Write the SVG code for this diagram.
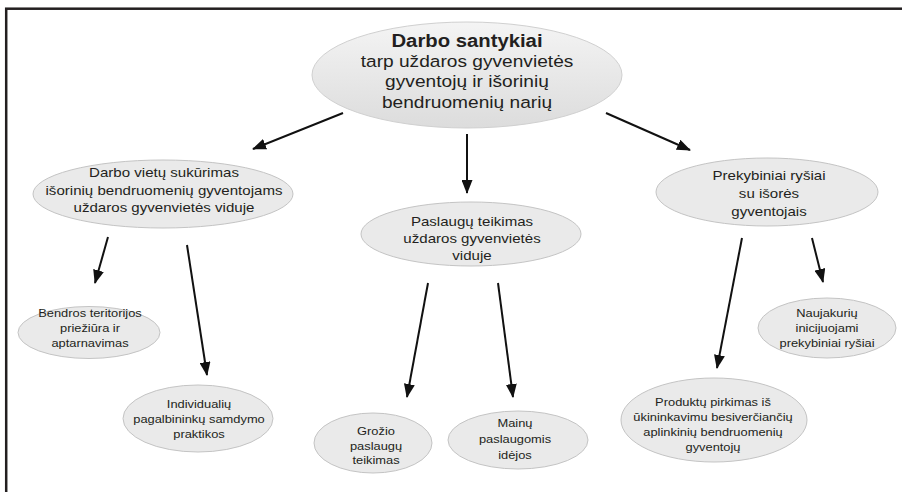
<svg xmlns="http://www.w3.org/2000/svg" width="902" height="492" viewBox="0 0 902 492">
<style>
  .node { fill: #eaeaea; stroke: #c4c4c4; stroke-width: 1; }
  .t { font-family: "Liberation Sans", Arial, sans-serif; fill: #231f20; text-anchor: middle; }
  .top { font-size: 16.5px; }
  .topb { font-size: 17.5px; font-weight: bold; }
  .mid { font-size: 13px; }
  .small { font-size: 11.2px; }
  .conn line { stroke: #111; stroke-width: 2; marker-end: url(#arr); }
</style>
<defs>
  <marker id="arr" markerWidth="14" markerHeight="11" refX="13" refY="5.5" orient="auto" markerUnits="userSpaceOnUse">
    <path d="M0,0 L14,5.5 L0,11 Z" fill="#111"/>
  </marker>
  <linearGradient id="g1" x1="0" y1="0" x2="0" y2="1">
    <stop offset="0" stop-color="#f4f4f4"/>
    <stop offset="1" stop-color="#dcdcdc"/>
  </linearGradient>
</defs>
<rect x="0" y="0" width="902" height="492" fill="#ffffff"/>
<rect x="6.2" y="8.7" width="910" height="500" fill="none" stroke="#231f20" stroke-width="2.5"/>

<g id="connectors" class="conn">
  <line x1="343" y1="113" x2="253" y2="149"/>
  <line x1="467" y1="134" x2="467" y2="193"/>
  <line x1="606" y1="113" x2="690" y2="150"/>
  <line x1="108" y1="237" x2="95" y2="283"/>
  <line x1="187" y1="245" x2="207" y2="375"/>
  <line x1="428" y1="283" x2="407" y2="397"/>
  <line x1="498" y1="283" x2="513" y2="397"/>
  <line x1="742" y1="238" x2="717" y2="368"/>
  <line x1="812" y1="238" x2="823" y2="282"/>
</g>

<g id="root">
  <ellipse cx="467" cy="75" rx="155" ry="53" fill="url(#g1)" stroke="#d0d0d0" stroke-width="1"/>
  <g class="t" transform="translate(467 0) scale(1.16 1)">
    <text class="topb" x="0" y="47">Darbo santykiai</text>
    <text class="top" x="0" y="67">tarp uždaros gyvenvietės</text>
    <text class="top" x="0" y="87">gyventojų ir išorinių</text>
    <text class="top" x="0" y="108">bendruomenių narių</text>
  </g>
</g>

<g id="darbo-vietos">
  <ellipse class="node" cx="163" cy="194" rx="130" ry="34"/>
  <g class="t mid" transform="translate(164 0) scale(1.16 1)">
    <text x="0" y="177">Darbo vietų sukūrimas</text>
    <text x="0" y="195">išorinių bendruomenių gyventojams</text>
    <text x="0" y="212">uždaros gyvenvietės viduje</text>
  </g>
</g>

<g id="paslaugos">
  <ellipse class="node" cx="471" cy="234" rx="110" ry="32"/>
  <g class="t mid" transform="translate(472 0) scale(1.16 1)">
    <text x="0" y="226">Paslaugų teikimas</text>
    <text x="0" y="243">uždaros gyvenvietės</text>
    <text x="0" y="260">viduje</text>
  </g>
</g>

<g id="prekyba">
  <ellipse class="node" cx="767" cy="192" rx="111" ry="34"/>
  <g class="t mid" transform="translate(769 0) scale(1.16 1)">
    <text x="0" y="180">Prekybiniai ryšiai</text>
    <text x="0" y="198">su išorės</text>
    <text x="0" y="216">gyventojais</text>
  </g>
</g>

<g id="bendros">
  <ellipse class="node" cx="89" cy="332.5" rx="71" ry="26"/>
  <g class="t small" transform="translate(90 0) scale(1.15 1)">
    <text x="0" y="317">Bendros teritorijos</text>
    <text x="0" y="332">priežiūra ir</text>
    <text x="0" y="347">aptarnavimas</text>
  </g>
</g>

<g id="individualiu">
  <ellipse class="node" cx="198" cy="418.5" rx="75" ry="33.5"/>
  <g class="t small" transform="translate(199 0) scale(1.15 1)">
    <text x="0" y="408">Individualių</text>
    <text x="0" y="423">pagalbininkų samdymo</text>
    <text x="0" y="438">praktikos</text>
  </g>
</g>

<g id="grozio">
  <ellipse class="node" cx="373" cy="443" rx="59" ry="30"/>
  <g class="t small" transform="translate(376 0) scale(1.15 1)">
    <text x="0" y="435">Grožio</text>
    <text x="0" y="450">paslaugų</text>
    <text x="0" y="464">teikimas</text>
  </g>
</g>

<g id="mainu">
  <ellipse class="node" cx="518" cy="440" rx="70" ry="29"/>
  <g class="t small" transform="translate(515 0) scale(1.15 1)">
    <text x="0" y="427">Mainų</text>
    <text x="0" y="443">paslaugomis</text>
    <text x="0" y="459">idėjos</text>
  </g>
</g>

<g id="naujakuriu">
  <ellipse class="node" cx="827" cy="328" rx="69" ry="30"/>
  <g class="t small" transform="translate(827 0) scale(1.15 1)">
    <text x="0" y="317">Naujakurių</text>
    <text x="0" y="332">inicijuojami</text>
    <text x="0" y="347">prekybiniai ryšiai</text>
  </g>
</g>

<g id="produktu">
  <ellipse class="node" cx="714" cy="420" rx="93" ry="42"/>
  <g class="t small" transform="translate(713 0) scale(1.15 1)">
    <text x="0" y="406">Produktų pirkimas iš</text>
    <text x="0" y="421">ūkininkavimu besiverčiančių</text>
    <text x="0" y="436">aplinkinių bendruomenių</text>
    <text x="0" y="451">gyventojų</text>
  </g>
</g>
</svg>
